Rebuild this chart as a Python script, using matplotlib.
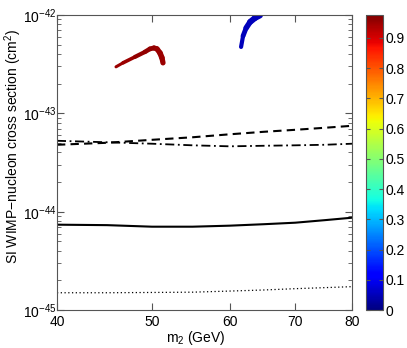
import matplotlib
matplotlib.use("Agg")
import matplotlib.pyplot as plt
import numpy as np
from matplotlib import cm, colors
from matplotlib.collections import LineCollection
from matplotlib.ticker import FixedLocator, FixedFormatter, NullFormatter, LogLocator, NullLocator

plt.rcParams['font.family'] = ['Liberation Sans', 'DejaVu Sans']
plt.rcParams['mathtext.fontset'] = 'custom'
plt.rcParams['mathtext.rm'] = 'Liberation Sans'
plt.rcParams['mathtext.it'] = 'Liberation Sans:italic'
plt.rcParams['mathtext.default'] = 'regular'

# limit curves (m2 in GeV, sigma in cm^2)
m_lim = [40, 45, 50, 55, 60, 65, 70, 75, 80]
sig_dashed = [4.79e-44, 5.02e-44, 5.38e-44, 5.71e-44, 6.12e-44, 6.49e-44, 6.80e-44, 7.13e-44, 7.47e-44]
sig_dashdot = [5.26e-44, 5.08e-44, 4.91e-44, 4.73e-44, 4.62e-44, 4.68e-44, 4.73e-44, 4.79e-44, 4.91e-44]
sig_solid = [7.38e-45, 7.30e-45, 7.04e-45, 7.04e-45, 7.21e-45, 7.46e-45, 7.73e-45, 8.20e-45, 8.69e-45]
sig_dotted = [1.50e-45, 1.50e-45, 1.51e-45, 1.52e-45, 1.56e-45, 1.60e-45, 1.65e-45, 1.69e-45, 1.73e-45]

# allowed regions (colour = fraction)
red_m = [45.95, 46.71, 48.05, 49.18, 49.76, 50.24, 50.59, 50.95, 51.19, 51.31]
red_sig = [2.97e-43, 3.26e-43, 3.75e-43, 4.21e-43, 4.52e-43, 4.62e-43, 4.52e-43, 4.11e-43, 3.66e-43, 3.26e-43]
red_val = [0.95, 0.95, 0.96, 0.96, 0.96, 0.96, 0.95, 0.95, 0.95, 0.95]
blue_m = [61.64, 61.93, 62.38, 62.96, 63.69, 64.44]
blue_sig = [4.73e-43, 6.12e-43, 7.38e-43, 8.49e-43, 9.32e-43, 9.9e-43]
blue_val = [0.05, 0.05, 0.05, 0.05, 0.05, 0.05]

xticks = [40, 50, 60, 70, 80]
cbar_ticks = [0, 0.1, 0.2, 0.3, 0.4, 0.5, 0.6, 0.7, 0.8, 0.9]
vmax = 0.976

fig = plt.figure(figsize=(4.07, 3.48), dpi=100)
ax = fig.add_axes([0.140, 0.109, 0.725, 0.848])
cax = fig.add_axes([0.899, 0.109, 0.042, 0.848])

norm = colors.Normalize(0, vmax)
cmap = plt.get_cmap('jet')

ax.plot(m_lim, sig_dashed, color='k', lw=1.5, ls=(0, (4, 2.5)))
ax.plot(m_lim, sig_dashdot, color='k', lw=1.3, ls=(0, (5, 2, 1, 2)))
ax.plot(m_lim, sig_solid, color='k', lw=1.5)
ax.plot(m_lim, sig_dotted, color='k', lw=0.9, ls=(0, (1, 2)))

def blob(ms, sigs, vals, widths):
    pts = np.array([ms, sigs]).T.reshape(-1, 1, 2)
    segs = np.concatenate([pts[:-1], pts[1:]], axis=1)
    lc = LineCollection(segs, colors=cmap(norm(np.array(vals[:-1]))),
                        linewidths=widths, capstyle='round', joinstyle='round')
    ax.add_collection(lc)

blob(red_m, red_sig, red_val, [2.2, 2.6, 3.0, 3.3, 3.5, 3.7, 3.9, 4.0, 3.8])
blob(blue_m, blue_sig, blue_val, [3.0, 3.5, 4.0, 4.3, 4.3])

ax.set_xscale('log')
ax.set_yscale('log')
ax.set_xlim(40, 80)
ax.set_ylim(1e-45, 1e-42)
ax.xaxis.set_major_locator(FixedLocator(xticks))
ax.xaxis.set_major_formatter(FixedFormatter([str(t) for t in xticks]))
ax.xaxis.set_minor_locator(NullLocator())
ax.yaxis.set_major_locator(LogLocator(base=10))
ax.yaxis.set_minor_locator(LogLocator(base=10, subs=np.arange(2, 10)))
ax.yaxis.set_minor_formatter(NullFormatter())
ax.tick_params(which='both', direction='in', top=True, right=True, labelsize=10, color='#555555')
ax.tick_params(axis='y', pad=0.5)
ax.tick_params(which='major', length=5)
ax.tick_params(which='minor', length=3)
for s in ax.spines.values():
    s.set_color('#555555')
    s.set_linewidth(0.8)

ax.set_xlabel('m$_2$ (GeV)', fontsize=10)
ax.xaxis.set_label_coords(0.47, -0.065)
ax.set_ylabel('SI WIMP\u2212nucleon cross section (cm$^2$)', fontsize=10)
ax.yaxis.set_label_coords(-0.113, 0.555)

sm = cm.ScalarMappable(norm=norm, cmap=cmap)
cb = fig.colorbar(sm, cax=cax, ticks=cbar_ticks)
cb.ax.set_yticklabels([('%g' % t) for t in cbar_ticks])
cb.ax.tick_params(direction='in', length=3, labelsize=10, left=True, right=True, color='#555555', pad=2)
cb.outline.set_edgecolor('#555555')
cb.outline.set_linewidth(0.8)

fig.savefig('out.png', dpi=100)
